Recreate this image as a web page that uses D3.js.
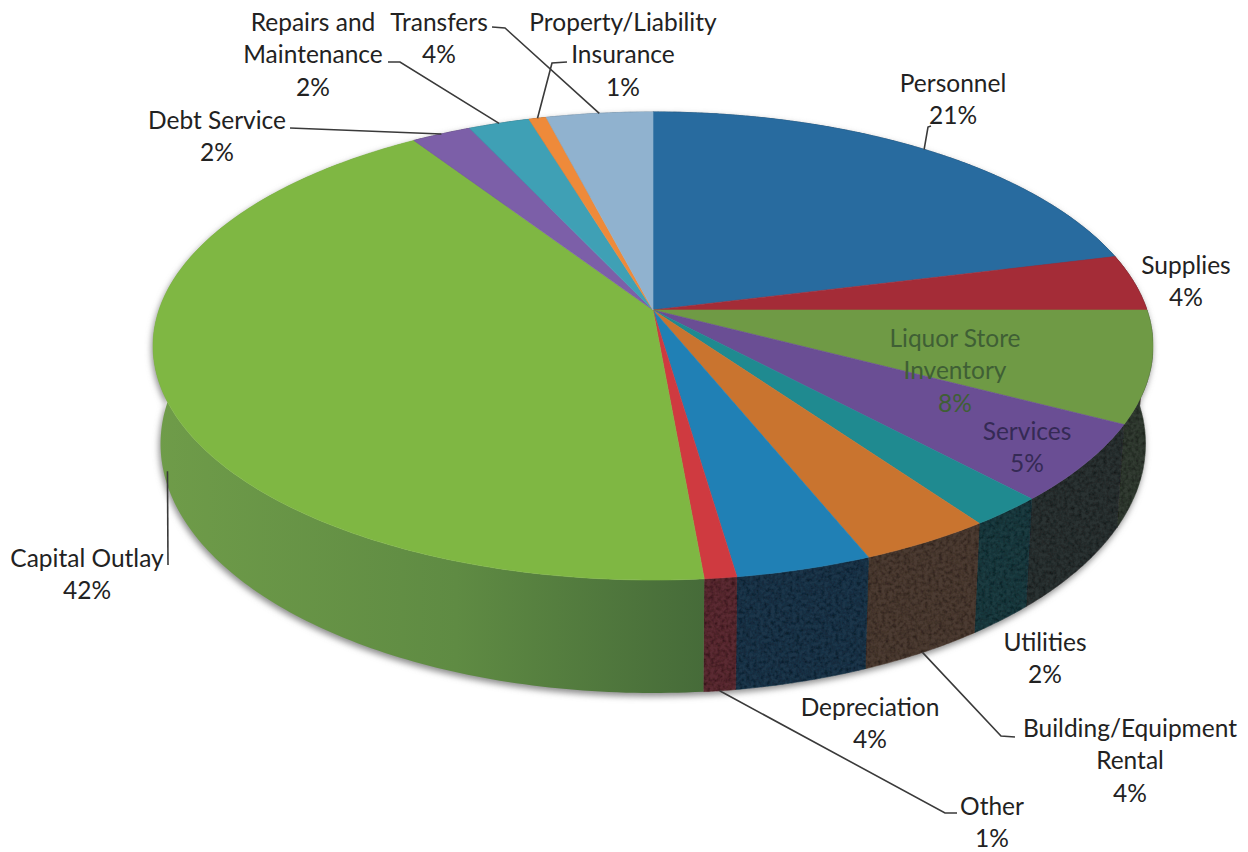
<!DOCTYPE html>
<html><head><meta charset="utf-8">
<script src="https://cdn.jsdelivr.net/npm/d3@7/dist/d3.min.js"></script>
<style>html,body{margin:0;padding:0;background:#fff}svg{display:block}text{font-family:Lato,"Open Sans",sans-serif;font-size:24.5px;fill:#222}</style>
</head><body>
<script>
// ---- data ----
const categories = ["Personnel","Supplies","Liquor Store|Inventory","Services","Utilities","Building/Equipment|Rental","Depreciation","Other","Capital Outlay","Debt Service","Repairs and|Maintenance","Property/Liability|Insurance","Transfers"];
const sliceValues = [21.1,3.9,7.7,5.4,2.1,3.7,3.8,0.9,42.2,2.25,2.3,0.65,4.0];
const percentLabels = ["21%","4%","8%","5%","2%","4%","4%","1%","42%","2%","2%","1%","4%"];
// ---- styles / layout ----
const topColors = ["#286b9f","#a42c37","#6f9a45","#6a4e94","#1f8a90","#c9742f","#2080b5","#cf3a40","#7fb743","#7c5fa8","#3fa0b5","#ee8a3a","#90b2cf"];
const wallColors = ["#1d3f5c","#4a2226","#313a30","#2c3031","#1e3a40","#4c3a30","#1b3549","#5a2a30","url(#capWall)","#4a3a60","#2a6070","#8a5020","#607a90"];
const labelCenters = [[953,83],[1186,265],[955,338],[1027,431],[1045,642],[1130,728],[870,707],[992,806],[87,558],[217,120],[313,22],[623,22],[439,22]];
const labelColors = {2:"#3f5f35",3:"#352a55"};
const leaders = [
 {i:0,z:0,pts:[[931,126],[928,127]]},
 {i:5,z:1,pts:[[1015,737],[1001,736]]},
 {i:7,z:1,pts:[[957,813],[945,813]]},
 {i:8,z:0.82,pts:[[168,565]]},
 {i:9,z:0,pts:[[290,128]]},
 {i:10,z:0,pts:[[388,62],[400,62]]},
 {i:11,z:0,pts:[[567,62],[552,63]]},
 {i:12,z:0,pts:[[492,27],[505,28]]}
];
const W=1248,H=852,cx=653,cy=310,R=494,A=228.5,K=0.1538,D=95.6,SHRINK=0.015;
function project(angle,r,z){
  const u=r*Math.sin(angle),v=-r*Math.cos(angle),w=1/(1-K*v);
  return [cx+R*u*w*(1-SHRINK*z),cy+(A*v+D*z)*w];
}
const svg=d3.select("body").append("svg").attr("width",W).attr("height",H);
svg.append("rect").attr("width",W).attr("height",H).attr("fill","#fff");
const defs=svg.append("defs");
const g=defs.append("linearGradient").attr("id","capWall").attr("x1",0).attr("x2",1).attr("y1",0).attr("y2",0);
g.append("stop").attr("offset",0).attr("stop-color","#6f9c49");
g.append("stop").attr("offset",0.55).attr("stop-color","#5f8b43");
g.append("stop").attr("offset",1).attr("stop-color","#466b39");
const blur=defs.append("filter").attr("id","soft").attr("x","-5%").attr("y","-5%").attr("width","110%").attr("height","110%");
blur.append("feGaussianBlur").attr("stdDeviation",3);
const sp=defs.append("filter").attr("id","speckle").attr("x",0).attr("y",0).attr("width","100%").attr("height","100%");
sp.append("feTurbulence").attr("type","fractalNoise").attr("baseFrequency",0.28).attr("numOctaves",2).attr("seed",4).attr("result","n");
sp.append("feColorMatrix").attr("in","n").attr("type","matrix").attr("values","0 0 0 0 0  0 0 0 0 0  0 0 0 0 0  1.3 0 0 0 -0.5").attr("result","dark");
sp.append("feComposite").attr("in","dark").attr("in2","SourceAlpha").attr("operator","in").attr("result","clip");
sp.append("feMerge").call(m=>{m.append("feMergeNode").attr("in","SourceGraphic");m.append("feMergeNode").attr("in","clip");});

const pie=d3.pie().sort(null).value(d=>d)(sliceValues);
const line=d3.line();
function arcPts(s,e,z){
  const n=Math.max(2,Math.ceil((e-s)/0.015));
  return d3.range(n+1).map(i=>project(s+(e-s)*i/n,1,z));
}
function wedge(d){return line([[cx,cy],...arcPts(d.startAngle,d.endAngle,0)])+"Z";}
function wall(d){return line([...arcPts(d.startAngle,d.endAngle,0),...arcPts(d.startAngle,d.endAngle,1).reverse()])+"Z";}
// soft shadow
svg.append("g").attr("filter","url(#soft)").attr("transform","translate(-1,3)").selectAll("path").data(pie).join("path")
  .attr("d",wall).attr("fill","#8d8d8d").attr("stroke","#8d8d8d");
// walls
const wallG=svg.append("g");
wallG.selectAll("path").data(pie).join("path").attr("d",wall)
  .attr("fill",(d,i)=>wallColors[i]).attr("stroke",(d,i)=>i==8?"none":wallColors[i]).attr("stroke-width",0.5)
  .attr("filter",(d,i)=>i==8?null:"url(#speckle)");
// top face
svg.append("g").selectAll("path").data(pie).join("path").attr("d",wedge)
  .attr("fill",(d,i)=>topColors[i]).attr("stroke",(d,i)=>topColors[i]).attr("stroke-width",0.6);
// leaders
const leaderG=svg.append("g");
leaders.forEach(l=>{
  const d=pie[l.i],mid=(d.startAngle+d.endAngle)/2;
  leaderG.append("path").attr("d",line([...l.pts,project(mid,1,l.z)])).attr("fill","none").attr("stroke","#3a3a3a").attr("stroke-width",1.6);
});
// labels
const lineH=32.5;
categories.forEach((c,i)=>{
  const lines=[...c.split("|"),percentLabels[i]],[x,y]=labelCenters[i];
  const t=svg.append("text").attr("text-anchor","middle").attr("x",x).attr("y",y).style("fill",labelColors[i]||"#222");
  lines.forEach((s,j)=>t.append("tspan").attr("x",x).attr("y",y+j*lineH).attr("dy","0.35em").text(s));
});
</script>
</body></html>
